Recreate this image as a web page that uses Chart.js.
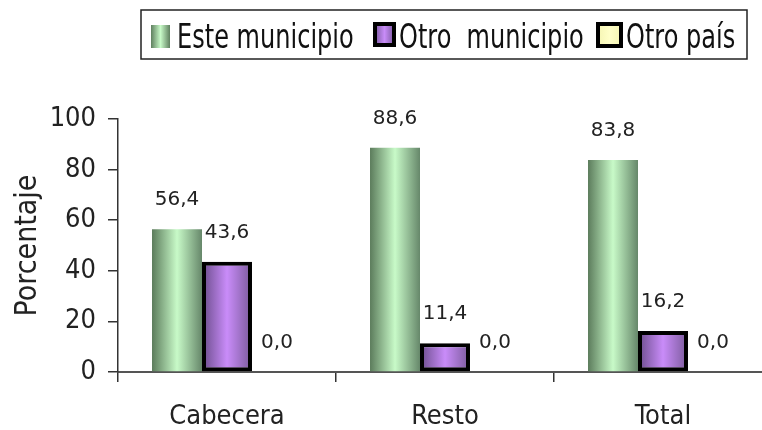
<!DOCTYPE html>
<html>
<head>
<meta charset="utf-8">
<script src="https://cdn.jsdelivr.net/npm/chart.js@4"></script>
<style>
  html, body { margin: 0; padding: 0; background: #fff; overflow: hidden; }
  #wrap { width: 772px; height: 430px; }
</style>
</head>
<body>
<div id="wrap"><canvas id="chart"></canvas></div>
<script>
const categories = ["Cabecera", "Resto", "Total"];
const seriesNames = ["Este municipio", "Otro  municipio", "Otro país"];
const esteMunicipio = [56.4, 88.6, 83.8];
const otroMunicipio = [43.6, 11.4, 16.2];
const otroPais = [0.0, 0.0, 0.0];
const yTicks = [0, 20, 40, 60, 80, 100];

const NARROW = "'Liberation Sans Narrow', 'DejaVu Sans Condensed', sans-serif";
const GROUP = 0.688;

// cylinder look: dark edges, light middle
function cylinder(dark, light, darkR) {
  return function (c) {
    const chart = c.chart;
    const xs = chart.scales.x;
    if (c.type !== "data" || !xs || !chart.chartArea) return light;
    const bw = xs.width / categories.length * GROUP / 3;
    const cx = xs.getPixelForValue(c.dataIndex) + (c.datasetIndex - 1) * bw;
    const g = chart.ctx.createLinearGradient(cx - bw / 2, 0, cx + bw / 2, 0);
    g.addColorStop(0, dark);
    g.addColorStop(0.5, light);
    g.addColorStop(1, darkR);
    return g;
  };
}

// legend swatches, drawn in a box above the plot
const legendItems = [
  { x: 151, tx: 177, w: 19, h: 23, y: 25, dark: "#5f805f", light: "#c8fac8", border: 0 },
  { x: 373, tx: 399, w: 23, h: 25, y: 22, dark: "#6e5090", light: "#c88cf8", border: 4 },
  { x: 596, tx: 626, w: 27, h: 26, y: 22, dark: "#f4f4b0", light: "#ffffc8", border: 4 }
];

const boxLegend = {
  id: "boxLegend",
  afterDraw(chart) {
    const ctx = chart.ctx;
    ctx.save();
    ctx.strokeStyle = "#222";
    ctx.lineWidth = 1.5;
    ctx.strokeRect(141, 10, 606, 49);
    ctx.font = "33px " + NARROW;
    ctx.textBaseline = "alphabetic";
    legendItems.forEach((it, i) => {
      const g = ctx.createLinearGradient(it.x, 0, it.x + it.w, 0);
      g.addColorStop(0, it.dark);
      g.addColorStop(0.5, it.light);
      g.addColorStop(1, it.dark);
      if (it.border) {
        ctx.fillStyle = "#000";
        ctx.fillRect(it.x, it.y, it.w, it.h);
        ctx.fillStyle = g;
        ctx.fillRect(it.x + it.border, it.y + it.border, it.w - 2 * it.border, it.h - 2 * it.border);
      } else {
        ctx.fillStyle = g;
        ctx.fillRect(it.x, it.y, it.w, it.h);
      }
      ctx.save();
      ctx.translate(it.tx, 48);
      ctx.scale(0.81, 1);
      ctx.fillStyle = "#111";
      ctx.fillText(seriesNames[i], 0, 0);
      ctx.restore();
    });
    ctx.restore();
  }
};

const valueLabels = {
  id: "valueLabels",
  afterDatasetsDraw(chart) {
    const ctx = chart.ctx;
    ctx.save();
    ctx.font = "20px 'DejaVu Sans', sans-serif";
    ctx.fillStyle = "#222";
    ctx.textAlign = "center";
    ctx.textBaseline = "alphabetic";
    chart.data.datasets.forEach((ds, i) => {
      chart.getDatasetMeta(i).data.forEach((bar, j) => {
        const txt = ds.data[j].toFixed(1).replace(".", ",");
        ctx.fillText(txt, bar.x, bar.y - 24);
      });
    });
    ctx.restore();
  }
};

new Chart(document.getElementById("chart"), {
  type: "bar",
  data: {
    labels: categories,
    datasets: [
      {
        label: seriesNames[0],
        data: esteMunicipio,
        backgroundColor: cylinder("#5c7c5c", "#c8fac8", "#66876a"),
        borderWidth: 0
      },
      {
        label: seriesNames[1],
        data: otroMunicipio,
        backgroundColor: cylinder("#6a4c8a", "#c98cf9", "#7a5a9a"),
        borderColor: "#000",
        borderWidth: 4,
        borderSkipped: false
      },
      {
        label: seriesNames[2],
        data: otroPais,
        backgroundColor: "#ffffc0",
        borderColor: "#000",
        borderWidth: 0,
        borderSkipped: false
      }
    ]
  },
  options: {
    responsive: true,
    maintainAspectRatio: false,
    animation: false,
    layout: { padding: { top: 119, left: 0, right: 0, bottom: 0 } },
    datasets: { bar: { categoryPercentage: GROUP, barPercentage: 1 } },
    scales: {
      x: {
        afterFit: (s) => { s.height = 58; },
        grid: { drawOnChartArea: false, tickLength: 10, color: "#333", lineWidth: 1.5 },
        border: { color: "#555", width: 2 },
        ticks: { color: "#222", padding: 19, font: { family: NARROW, size: 27 } }
      },
      y: {
        min: 0,
        max: 100,
        afterFit: (s) => { s.width = 118; },
        afterBuildTicks: (s) => { s.ticks = yTicks.map((v) => ({ value: v })); },
        grid: { drawOnChartArea: false, tickLength: 10, color: "#333", lineWidth: 1.5 },
        border: { color: "#333", width: 1.5 },
        ticks: { color: "#222", padding: 12, font: { family: NARROW, size: 27 } },
        title: {
          display: true,
          text: "Porcentaje",
          color: "#222",
          padding: { top: 10, bottom: 0 },
          font: { family: NARROW, size: 30 }
        }
      }
    },
    plugins: {
      legend: { display: false },
      tooltip: { enabled: false }
    }
  },
  plugins: [boxLegend, valueLabels]
});
</script>
</body>
</html>
